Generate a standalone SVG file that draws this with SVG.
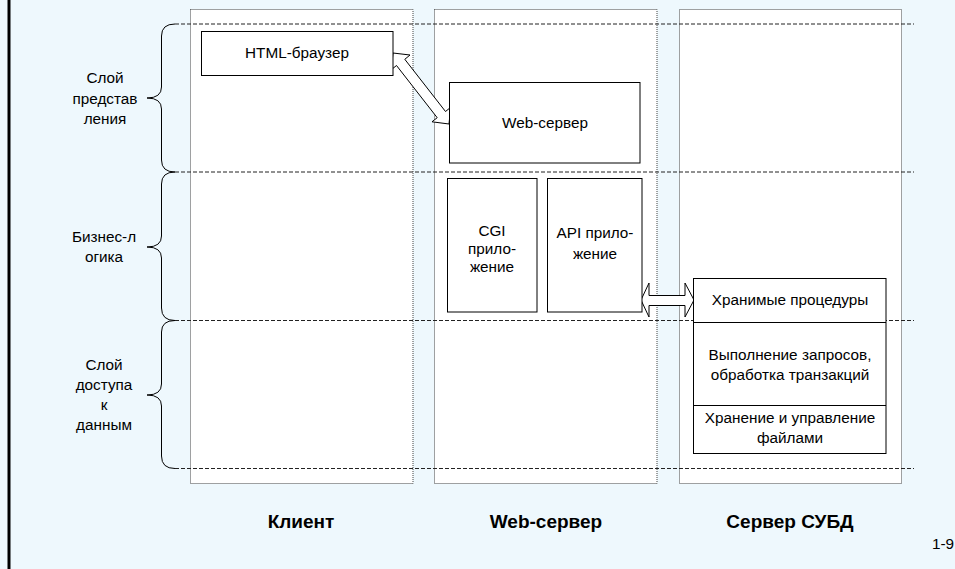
<svg xmlns="http://www.w3.org/2000/svg" width="955" height="569" viewBox="0 0 955 569">
<style>
.col{fill:#fff;stroke:#444;stroke-width:1;stroke-dasharray:1 1}
.layer{fill:none;stroke:#222;stroke-width:1;stroke-dasharray:4 2}
.brace{fill:none;stroke:#000;stroke-width:1}
.box{fill:#fff;stroke:#000;stroke-width:1}
.arrow{fill:#fff;stroke:#000;stroke-width:1;stroke-linejoin:miter}
text{font-family:"Liberation Sans",Arial,sans-serif;font-size:15.3px;fill:#000;text-anchor:middle}
.foot{font-weight:bold;font-size:19px}
</style>
<rect x="0" y="0" width="955" height="569" fill="#EEF8FD"/>
<line x1="9" y1="0" x2="9" y2="569" stroke="#000" stroke-width="3"/>
<g id="columns">
<rect class="col" x="190.5" y="9.5" width="222.5" height="474"/>
<rect class="col" x="434.5" y="9.5" width="222.5" height="474"/>
<rect class="col" x="679.5" y="9.5" width="222" height="474"/>
</g>
<g id="layers">
<line class="layer" x1="175" y1="24" x2="914" y2="24"/>
<line class="layer" x1="175" y1="172" x2="914" y2="172"/>
<line class="layer" x1="175" y1="320.5" x2="914" y2="320.5"/>
<line class="layer" x1="175" y1="468.5" x2="914" y2="468.5"/>
</g>
<g id="braces">
<path class="brace" d="M175,24 Q161.5,24 161.5,36 L161.5,87 Q161.5,98 147,98 Q161.5,98 161.5,109 L161.5,160 Q161.5,172 175,172"/>
<path class="brace" d="M175,172 Q161.5,172 161.5,184 L161.5,236 Q161.5,247 147,247 Q161.5,247 161.5,258 L161.5,308 Q161.5,320.5 175,320.5"/>
<path class="brace" d="M175,320.5 Q161.5,320.5 161.5,332 L161.5,384 Q161.5,395 147,395 Q161.5,395 161.5,406 L161.5,456 Q161.5,468.5 175,468.5"/>
</g>
<g id="layer-labels">
<text x="105" y="83">Слой</text>
<text x="105" y="104">представ</text>
<text x="105" y="124">ления</text>
<text x="104" y="242">Бизнес-л</text>
<text x="104" y="262">огика</text>
<text x="104" y="370">Слой</text>
<text x="104" y="390">доступа</text>
<text x="104" y="410">к</text>
<text x="104" y="430">данным</text>
</g>
<g id="connectors">
<polygon class="arrow" points="393,53 410,55 404.8,59.3 445.5,111.5 450.7,107.3 449,124 432,121.8 437.2,117.7 396.5,65.5 391.3,69.7"/>
<polygon class="arrow" points="641,300 649,283 649,295.5 685,295.5 685,283 694,300 685,317 685,305.5 649,305.5 649,317"/>
</g>
<g id="html-browser">
<rect class="box" x="201.5" y="31.5" width="191.5" height="44"/>
<text x="297" y="58">HTML-браузер</text>
</g>
<g id="web-server">
<rect class="box" x="449.5" y="82.5" width="190.5" height="80.5"/>
<text x="545" y="128">Web-сервер</text>
</g>
<g id="cgi-app">
<rect class="box" x="447.5" y="178.5" width="89.5" height="133.5"/>
<text x="492" y="236">CGI</text>
<text x="492" y="254">прило-</text>
<text x="492" y="272">жение</text>
</g>
<g id="api-app">
<rect class="box" x="547.5" y="178.5" width="94.5" height="133.5"/>
<text x="595" y="238">API прило-</text>
<text x="595" y="259">жение</text>
</g>
<g id="dbms">
<rect class="box" x="693.5" y="278.5" width="192.5" height="175"/>
<line x1="693.5" y1="322.5" x2="886" y2="322.5" stroke="#000"/>
<line x1="693.5" y1="405.5" x2="886" y2="405.5" stroke="#000"/>
<text x="790" y="305">Хранимые процедуры</text>
<text x="790" y="360">Выполнение запросов,</text>
<text x="790" y="380">обработка транзакций</text>
<text x="790" y="423">Хранение и управление</text>
<text x="790" y="443">файлами</text>
</g>
<g id="footer">
<text class="foot" x="301" y="528">Клиент</text>
<text class="foot" x="546" y="528">Web-сервер</text>
<text class="foot" x="790" y="528">Сервер СУБД</text>
<text x="932" y="549" style="text-anchor:start">1-9</text>
</g>
</svg>
